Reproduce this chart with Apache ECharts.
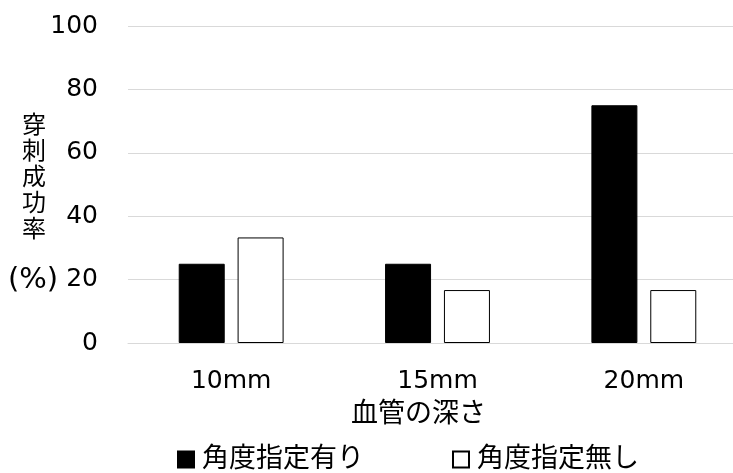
<!DOCTYPE html>
<html>
<head>
<meta charset="utf-8">
<script src="https://cdn.jsdelivr.net/npm/echarts@6/dist/echarts.min.js"></script>
<style>html,body{margin:0;padding:0;background:#fff;}#c{width:733px;height:473px;}</style>
</head>
<body>
<div id="c"></div>
<script>
var categories = ['10mm', '15mm', '20mm'];
var seriesNames = ['角度指定有り', '角度指定無し'];
var withAngle = [25, 25, 75];
var withoutAngle = [33.3, 16.7, 16.7];
var yTicks = [0, 20, 40, 60, 80, 100];
var yTitle = '穿\n刺\n成\n功\n率';
var yUnit = '(%)';
var xTitle = '血管の深さ';

var FONT = '"DejaVu Sans", "Noto Sans CJK JP", sans-serif';
var chart = echarts.init(document.getElementById('c'), null, {renderer: 'canvas'});
chart.setOption({
  animation: false,
  backgroundColor: '#fff',
  textStyle: {fontFamily: FONT, color: '#000'},
  grid: {left: 128, right: -14, top: 26, bottom: 130, containLabel: false, outerBoundsMode: 'none'},
  legend: {
    left: 177, top: 446, padding: 0,
    itemWidth: 16, itemHeight: 16, itemGap: 88,
    icon: 'rect',
    textStyle: {fontFamily: FONT, fontSize: 27, color: '#000', padding: [0, 0, 0, 3]},
    data: seriesNames
  },
  xAxis: {
    type: 'category',
    data: categories,
    axisLine: {show: true, lineStyle: {color: '#d9d9d9', width: 1}},
    axisTick: {show: false},
    axisLabel: {fontFamily: FONT, fontSize: 25, color: '#000', margin: 26}
  },
  yAxis: {
    type: 'value',
    min: yTicks[0], max: yTicks[yTicks.length - 1], interval: 20,
    axisLine: {show: false},
    axisTick: {show: false},
    splitLine: {lineStyle: {color: '#d9d9d9', width: 1}},
    axisLabel: {fontFamily: FONT, fontSize: 25, color: '#000', margin: 30}
  },
  graphic: [
    {type: 'text', left: 22, top: 114, style: {text: yTitle, font: '24px ' + FONT, fill: '#000', lineHeight: 26}},
    {type: 'text', left: 8, top: 266, style: {text: yUnit, font: '29px ' + FONT, fill: '#000'}},
    {type: 'text', left: 351, top: 401, style: {text: xTitle, font: '27px ' + FONT, fill: '#000'}}
  ],
  series: [
    {name: seriesNames[0], type: 'bar', data: withAngle, barWidth: 46, barGap: '28%',
     itemStyle: {color: '#000', borderColor: '#000', borderWidth: 1}},
    {name: seriesNames[1], type: 'bar', data: withoutAngle, barWidth: 46,
     itemStyle: {color: '#fff', borderColor: '#000', borderWidth: 1}}
  ]
});
</script>
</body>
</html>
